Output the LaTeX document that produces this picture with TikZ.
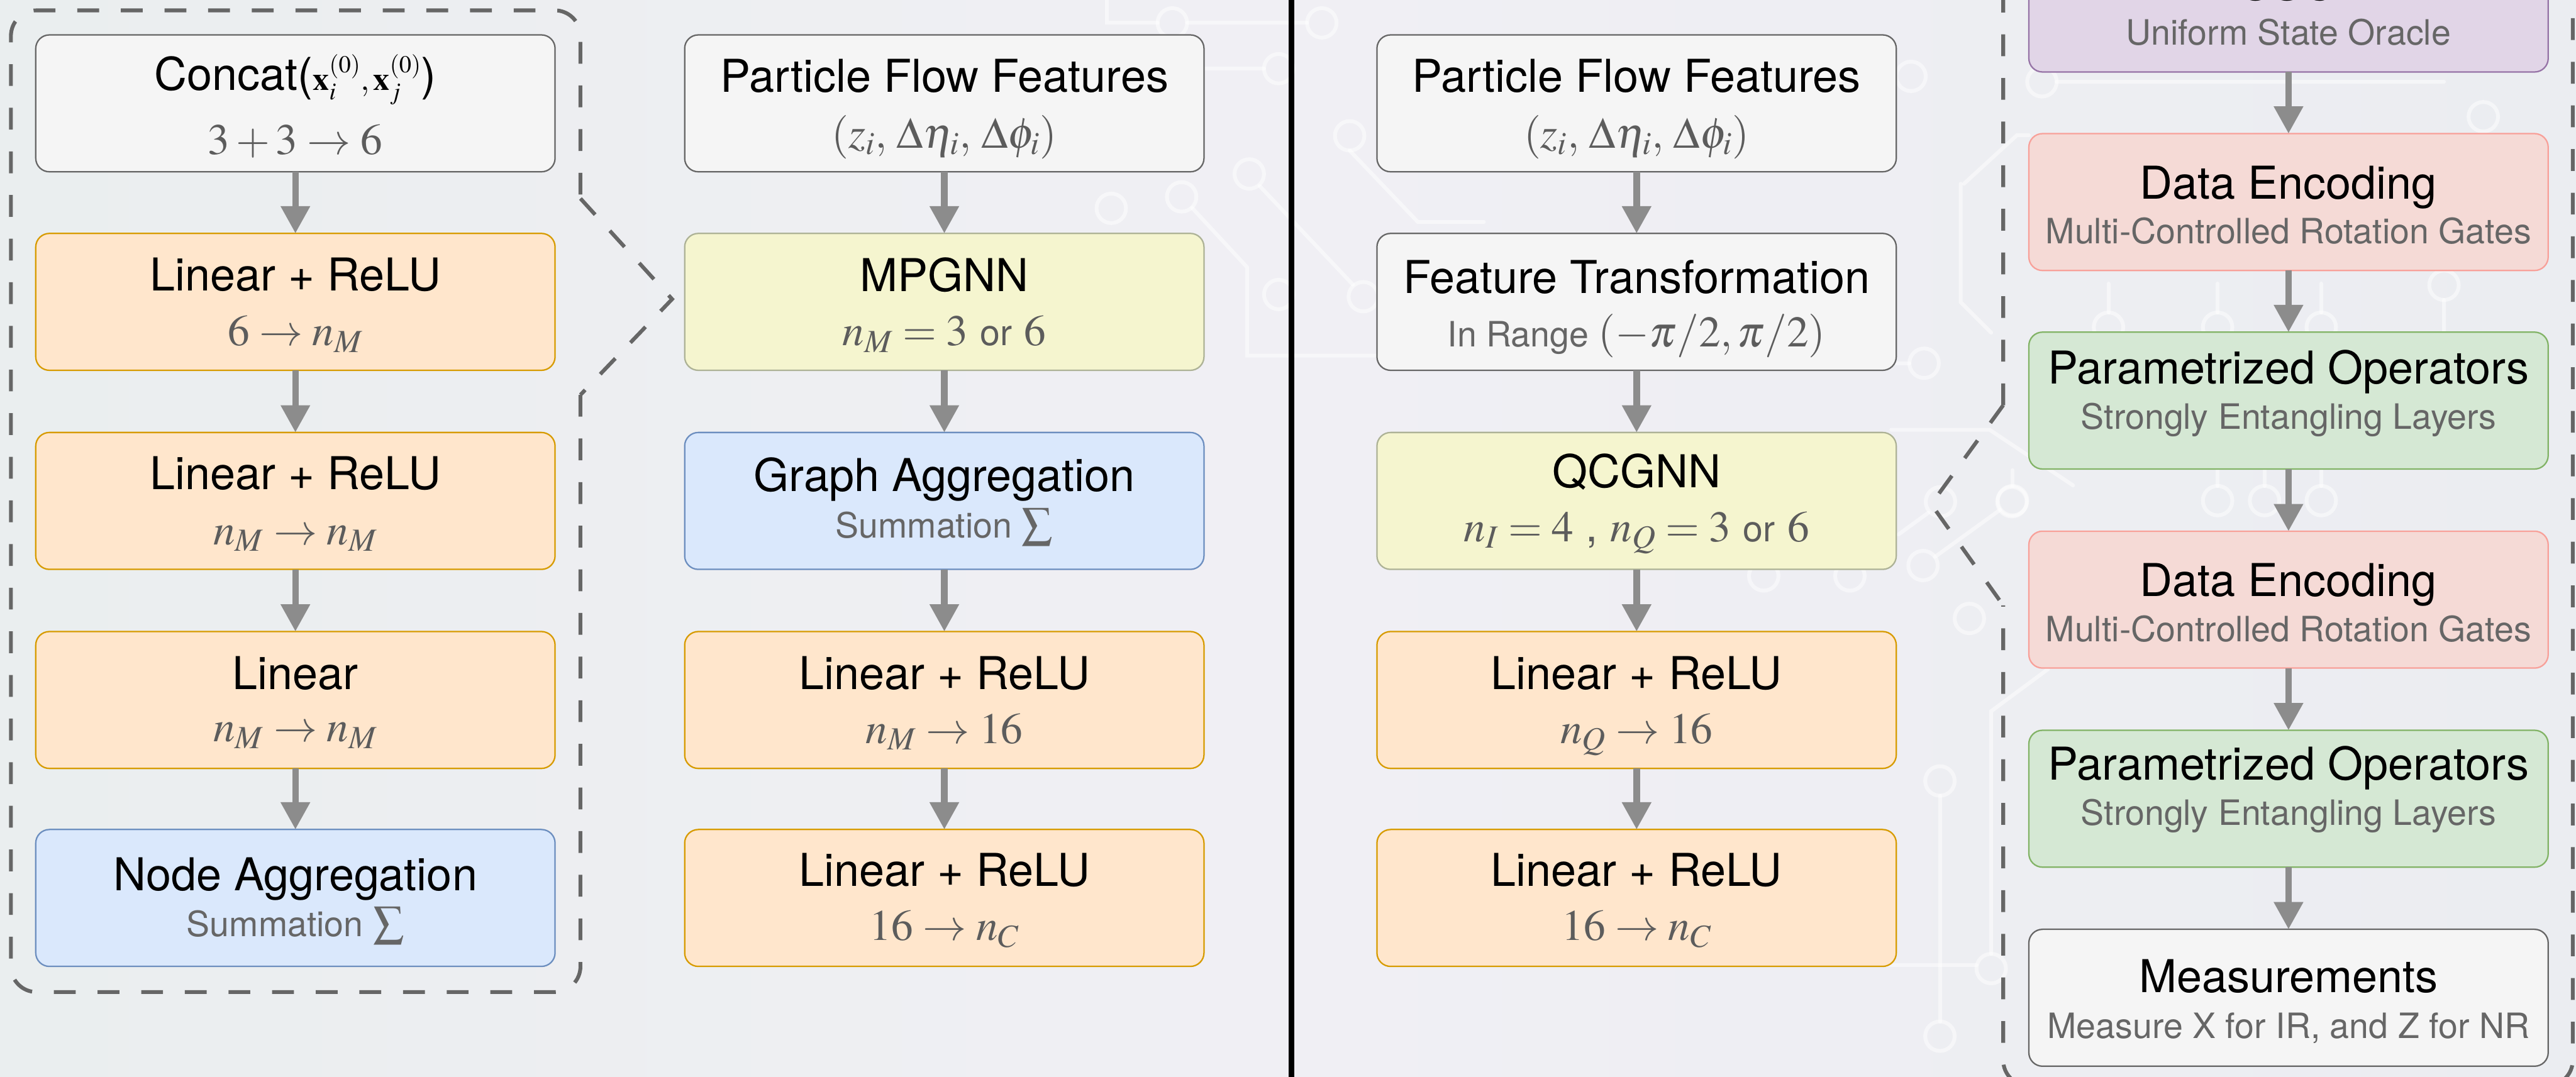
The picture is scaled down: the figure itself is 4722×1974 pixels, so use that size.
\documentclass[tikz,border=0pt]{standalone}
\usepackage{mathptmx}
\usepackage[no-math]{fontspec}
\setmainfont{TeX Gyre Heros}
\usetikzlibrary{arrows.meta,calc}

% palette
\definecolor{gFill}{HTML}{F5F5F5}\definecolor{gLine}{HTML}{666666}
\definecolor{oFill}{HTML}{FFE6CC}\definecolor{oLine}{HTML}{D79B00}
\definecolor{bFill}{HTML}{DAE8FC}\definecolor{bLine}{HTML}{6C8EBF}
\definecolor{yFill}{HTML}{F5F5CF}\definecolor{yLine}{HTML}{ADB296}
\definecolor{rFill}{HTML}{F5DAD6}\definecolor{rLine}{HTML}{F8A099}
\definecolor{grFill}{HTML}{D5E8D4}\definecolor{grLine}{HTML}{82B366}
\definecolor{pFill}{HTML}{E1D5E7}\definecolor{pLine}{HTML}{9673A6}
\definecolor{subGrey}{HTML}{666666}
\definecolor{mathGrey}{HTML}{5C5C5C}
\definecolor{arrGrey}{HTML}{8C8C8C}
\definecolor{dashGrey}{HTML}{666666}
\definecolor{bgL}{HTML}{EAEEEF}
\definecolor{bgM}{HTML}{F0EFF4}
\definecolor{bgR}{HTML}{EBEDF1}

\tikzset{
  blk/.style={draw, rounded corners=12.5pt, line width=1.3pt,
    minimum width=476pt, minimum height=125.5pt, inner sep=0pt, outer sep=0pt},
  greybox/.style={blk, fill=gFill, draw=gLine},
  orangebox/.style={blk, fill=oFill, draw=oLine},
  bluebox/.style={blk, fill=bFill, draw=bLine},
  yellowbox/.style={blk, fill=yFill, draw=yLine},
  redbox/.style={blk, fill=rFill, draw=rLine},
  greenbox/.style={blk, fill=grFill, draw=grLine},
  purplebox/.style={blk, fill=pFill, draw=pLine},
  ttl/.style={inner sep=0pt, anchor=base, text=black,
    font=\fontsize{41.5pt}{48pt}\selectfont},
  subtxt/.style={inner sep=0pt, anchor=base, text=subGrey,
    font=\fontsize{32pt}{38pt}\selectfont},
  submath/.style={inner sep=0pt, anchor=base, text=mathGrey,
    font=\fontsize{40pt}{48pt}\selectfont},
  flow/.style={draw=arrGrey, line width=6pt,
    -{Triangle[width=25.5pt,length=25pt]}},
  dashline/.style={draw=dashGrey, line width=3.5pt,
    dash pattern=on 20pt off 20pt},
  trace/.style={draw=white, line width=3.5pt, opacity=0.5, line cap=round},
}
\newcommand{\orword}{{\fontsize{33pt}{38pt}\selectfont or}}
\newcommand{\sumsign}{{\fontsize{40pt}{48pt}\selectfont$\sum$}}
% a circuit pad (ring) of the backdrop
\newcommand{\pad}[1]{\draw[trace] #1 circle[radius=13.5pt];}

\begin{document}
\begin{tikzpicture}[x=0.5pt,y=-0.5pt]
\path[use as bounding box] (0,0) rectangle (4722,1974);
\begin{scope}
\clip (0,0) rectangle (4722,1974);
% soft backdrop
\shade[left color=bgL, right color=bgR, middle color=bgM] (0,0) rectangle (4722,1974);

% circuit-board traces of the backdrop
\draw[trace] (2029,-10) -- (2029,42) -- (2122,42);
\draw[trace] (2176,42) -- (2396,42);
\pad{(2149,42)} \pad{(2423,42)}
\draw[trace] (2178,126) -- (2317,126); \pad{(2344,126)}
\pad{(2290,319)} \pad{(2166,361)} \pad{(2037,382)} \pad{(2344,540)}
\draw[trace] (2185,381) -- (2286,490) -- (2286,652) -- (2524,652);
\draw[trace] (2309,341) -- (2480,522); \pad{(2499,544)}
\draw[trace] (2474,276) -- (2599,407) -- (2720,407); \pad{(2474,249)}
\pad{(3503,140)} \pad{(3527,666)}
\draw[trace] (3476,666) -- (3500,666);
\draw[trace] (3594,337) -- (3594,554) -- (3650,610);
\draw[trace] (3467,788) -- (3647,788) -- (3800,890);
\pad{(3557,920)} \pad{(3688,920)} \pad{(3525,1037)} \pad{(3610,1134)}
\draw[trace] (3480,980) -- (3535,940);
\draw[trace] (3547,1021) -- (3666,935);
\pad{(3233,1056)} \pad{(3391,1056)}
\draw[trace] (3556,1459) -- (3556,1873); \pad{(3556,1432)} \pad{(3556,1900)}
\draw[trace] (3328,1770) -- (3623,1770);
\draw[trace] (3650,1749) -- (3650,1304) -- (3754,1227); \pad{(3650,1776)}
\draw[trace] (3600,337) -- (3697,248) -- (3719,248);
\draw[trace] (3770,150) -- (4480,150); \pad{(3743,150)} \pad{(4552,214)}
\draw[trace] (3865,573) -- (3865,520); \pad{(3865,600)}
\draw[trace] (4065,573) -- (4065,520); \pad{(4065,600)}
\draw[trace] (4255,573) -- (4255,520); \pad{(4255,600)}
\pad{(4480,523)} \draw[trace] (4480,550) -- (4480,620);
\foreach \px in {3689,4065,4151,4255}{
  \draw[trace] (\px,891) -- (\px,862); \pad{(\px,918)}
}

% ---------- classical message-passing block ----------
\node[greybox]   (concat) at (541.5,189.5)  {};
\node[orangebox] (mlpA)   at (541.5,553.5)  {};
\node[orangebox] (mlpB)   at (541.5,918.5)  {};
\node[orangebox] (mlpC)   at (541.5,1283.5) {};
\node[bluebox]   (nagg)   at (541.5,1646.5) {};

\node[ttl] (concat-t) at (541.5,165) {Concat({\fontsize{30pt}{36pt}\selectfont$\mathbf{x}_i^{(0)},\mathbf{x}_j^{(0)}$})};
\node[submath] (concat-s) at (541.5,283) {$3+3\to6$};
\node[ttl] (mlpA-t) at (541.5,533) {Linear + ReLU};
\node[submath] (mlpA-s) at (541.5,634) {$6\to n_M$};
\node[ttl] (mlpB-t) at (541.5,898) {Linear + ReLU};
\node[submath] (mlpB-s) at (541.5,999) {$n_M\to n_M$};
\node[ttl] (mlpC-t) at (541.5,1264) {Linear};
\node[submath] (mlpC-s) at (541.5,1360) {$n_M\to n_M$};
\node[ttl] (nagg-t) at (541.5,1633) {Node Aggregation};
\node[subtxt] (nagg-s) at (541.5,1717) {Summation \sumsign};

% ---------- classical pipeline ----------
\node[greybox]   (pffA)  at (1731,189.5)  {};
\node[yellowbox] (mpgnn) at (1731,553.5)  {};
\node[bluebox]   (gagg)  at (1731,918.5)  {};
\node[orangebox] (headA) at (1731,1283.5) {};
\node[orangebox] (headB) at (1731,1646.5) {};

\node[ttl] (pffA-t) at (1731,169) {Particle Flow Features};
\node[submath] (pffA-s) at (1731,271) {$(z_i,\,\Delta\eta_i,\,\Delta\phi_i)$};
\node[ttl] (mpgnn-t) at (1731,534) {MPGNN};
\node[submath] (mpgnn-s) at (1731,634) {$n_M=3$ \orword{} $6$};
\node[ttl] (gagg-t) at (1731,901) {Graph Aggregation};
\node[subtxt] (gagg-s) at (1731,986) {Summation \sumsign};
\node[ttl] (headA-t) at (1731,1264) {Linear + ReLU};
\node[submath] (headA-s) at (1731,1363) {$n_M\to16$};
\node[ttl] (headB-t) at (1731,1625) {Linear + ReLU};
\node[submath] (headB-s) at (1731,1724) {$16\to n_C$};

% ---------- quantum pipeline ----------
\node[greybox]   (pffB)  at (3000,189.5)  {};
\node[greybox]   (ftr)   at (3000,553.5)  {};
\node[yellowbox] (qcgnn) at (3000,918.5)  {};
\node[orangebox] (headC) at (3000,1283.5) {};
\node[orangebox] (headD) at (3000,1646.5) {};

\node[ttl] (pffB-t) at (3000,169) {Particle Flow Features};
\node[submath] (pffB-s) at (3000,271) {$(z_i,\,\Delta\eta_i,\,\Delta\phi_i)$};
\node[ttl] (ftr-t) at (3000,538) {Feature Transformation};
\node[subtxt] (ftr-s) at (3000,636) {In Range {\fontsize{40pt}{48pt}\selectfont\color{mathGrey}$(-\pi/2,\pi/2)$}};
\node[ttl] (qcgnn-t) at (3000,894) {QCGNN};
\node[submath] (qcgnn-s) at (3000,993) {$n_I=4$ , $n_Q=3$ \orword{} $6$};
\node[ttl] (headC-t) at (3000,1264) {Linear + ReLU};
\node[submath] (headC-s) at (3000,1363) {$n_Q\to16$};
\node[ttl] (headD-t) at (3000,1625) {Linear + ReLU};
\node[submath] (headD-s) at (3000,1724) {$16\to n_C$};

% ---------- quantum circuit block ----------
\node[purplebox] (uso)  at (4195,6.5)    {};
\node[redbox]    (encA) at (4195,370.5)  {};
\node[greenbox]  (opsA) at (4195,734.5)  {};
\node[redbox]    (encB) at (4195,1099.5) {};
\node[greenbox]  (opsB) at (4195,1464.5) {};
\node[greybox]   (meas) at (4195,1829.5) {};

\node[ttl] (uso-t) at (4195,1) {USO};
\node[subtxt] (uso-s) at (4195,83) {Uniform State Oracle};
\node[ttl] (encA-t) at (4195,365) {Data Encoding};
\node[subtxt] (encA-s) at (4195,447) {Multi-Controlled Rotation Gates};
\node[ttl] (opsA-t) at (4195,704) {Parametrized Operators};
\node[subtxt] (opsA-s) at (4195,787) {Strongly Entangling Layers};
\node[ttl] (encB-t) at (4195,1094) {Data Encoding};
\node[subtxt] (encB-s) at (4195,1176) {Multi-Controlled Rotation Gates};
\node[ttl] (opsB-t) at (4195,1430) {Parametrized Operators};
\node[subtxt] (opsB-s) at (4195,1513) {Strongly Entangling Layers};
\node[ttl] (meas-t) at (4195,1820) {Measurements};
\node[subtxt] (meas-s) at (4195,1904) {Measure X for IR, and Z for NR};

% ---------- flow arrows ----------
\foreach \a/\b in {concat/mlpA, mlpA/mlpB, mlpB/mlpC, mlpC/nagg,
                   pffA/mpgnn, mpgnn/gagg, gagg/headA, headA/headB,
                   pffB/ftr, ftr/qcgnn, qcgnn/headC, headC/headD,
                   uso/encA, encA/opsA, opsA/encB, encB/opsB, opsB/meas}
  \draw[flow] (\a) -- (\b);

% ---------- dashed call-outs ----------
\coordinate (mpTip) at ([xshift=-11.5pt,yshift=2.5pt]mpgnn.west);
\coordinate (qcTip) at ([xshift=32pt,yshift=-3pt]qcgnn.east);
\draw[dashline, rounded corners=23.5pt]
  (1064,724) -- (1064,1819) -- (20,1819) -- (20,19) -- (1064,19) -- (1064,364);
\draw[dashline] (1064,364) -- (mpTip) -- (1064,724);
\draw[dashline, rounded corners=23.5pt]
  (3672,743) -- (3672,-150) -- (4716,-150) -- (4716,1991) -- (3672,1991) -- (3672,1110);
\draw[dashline] (3672,743) -- (qcTip) -- (3672,1110);

% ---------- divider ----------
\draw[line width=5pt, black] (2367,-10) -- (2367,1984);
\end{scope}
\end{tikzpicture}
\end{document}
